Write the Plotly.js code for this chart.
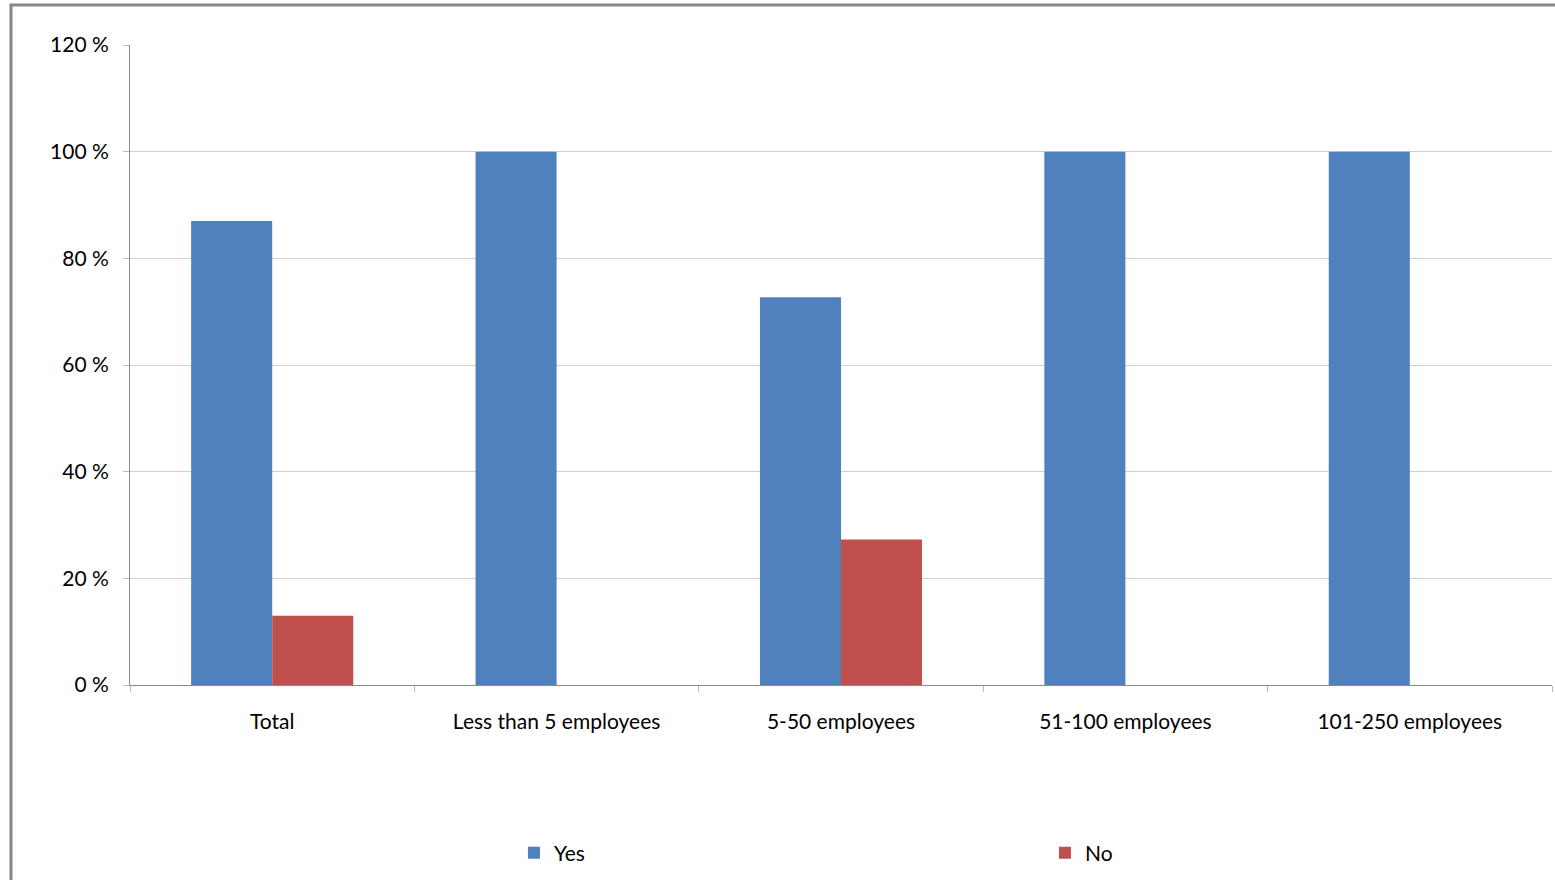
<!DOCTYPE html>
<html>
<head>
<meta charset="utf-8">
<script src="https://cdn.plot.ly/plotly-3.0.1.min.js"></script>
<style>html,body{margin:0;padding:0;background:#fff;}#chart{width:1555px;height:880px;}</style>
</head>
<body>
<div id="chart"></div>
<script>
const categories = ["Total", "Less than 5 employees", "5-50 employees", "51-100 employees", "101-250 employees"];
const yesValues = [87, 100, 72.7, 100, 100];
const noValues = [13, 0, 27.3, 0, 0];
const yTickVals = [0, 20, 40, 60, 80, 100, 120];
const yTickLabels = ["0 %", "20 %", "40 %", "60 %", "80 %", "100 %", "120 %"];

const FONT = "Lato, 'Open Sans', sans-serif";

const data = [
  {type: "bar", name: "Yes", x: categories, y: yesValues, marker: {color: "#4F81BD"}, hoverinfo: "y"},
  {type: "bar", name: "No", x: categories, y: noValues, marker: {color: "#C0504D"}, hoverinfo: "y"}
];

const layout = {
  width: 1555, height: 880,
  margin: {l: 130, r: 3, t: 45, b: 195, autoexpand: false},
  paper_bgcolor: "#ffffff", plot_bgcolor: "#ffffff",
  font: {family: FONT, size: 21, color: "#000"},
  barmode: "group", bargap: 0.43, bargroupgap: 0,
  showlegend: true,
  legend: {orientation: "h", x: 0.27, xanchor: "left", y: -0.2625, yanchor: "middle",
           entrywidth: 486, entrywidthmode: "pixels", itemwidth: 30,
           font: {family: FONT, size: 21}, traceorder: "normal"},
  xaxis: {type: "category", showline: true, linecolor: "#888888", linewidth: 1,
          ticks: "outside", tickson: "boundaries", ticklen: 6, tickcolor: "#bbbbbb",
          ticklabelstandoff: 18,
          showgrid: false, tickfont: {family: FONT, size: 21}, fixedrange: true},
  yaxis: {range: [0, 120], tickmode: "array", tickvals: yTickVals, ticktext: yTickLabels,
          showline: true, linecolor: "#888888",
          linewidth: 1, ticks: "outside", ticklen: 6, tickcolor: "#bbbbbb", showgrid: true,
          ticklabelstandoff: 10,
          gridcolor: "#d0d0d0", gridwidth: 1, zeroline: false, tickfont: {family: FONT, size: 21},
          fixedrange: true},
  shapes: [{type: "rect", xref: "paper", yref: "paper", x0: -0.0837, x1: 1.5, y0: -1, y1: 1.0625,
            line: {color: "#888888", width: 3}, fillcolor: "rgba(0,0,0,0)", layer: "below"}]
};

Plotly.newPlot("chart", data, layout, {displayModeBar: false, staticPlot: true});
</script>
</body>
</html>
